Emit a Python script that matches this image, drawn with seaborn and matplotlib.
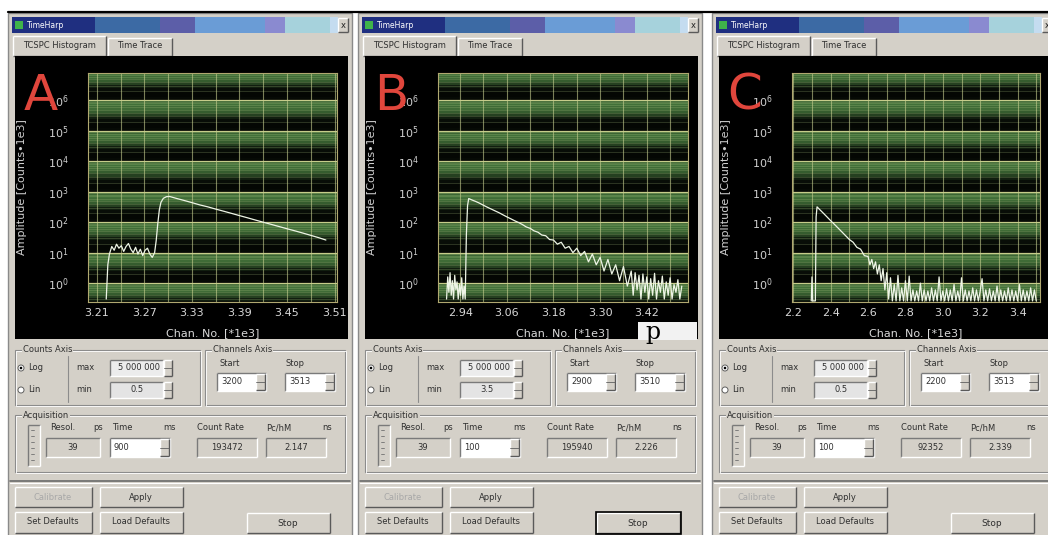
import numpy as np
import pandas as pd
import matplotlib
matplotlib.use("Agg")
import matplotlib.pyplot as plt
import seaborn as sns
from matplotlib.patches import Rectangle, Circle

sns.set_theme(style="dark")
plt.rcParams['font.family'] = ['DejaVu Sans']

# ---- histograms (x: channel no. *1e3, y: counts) ----
a_chan = [3.222, 3.224, 3.226, 3.229, 3.232, 3.235, 3.238, 3.241, 3.244, 3.247,
          3.250, 3.253, 3.256, 3.259, 3.262, 3.265, 3.268, 3.271, 3.274, 3.277,
          3.280, 3.283, 3.285, 3.287, 3.289, 3.291, 3.294, 3.298, 3.302, 3.310,
          3.320, 3.330, 3.340, 3.350, 3.360, 3.370, 3.380, 3.390, 3.400, 3.410,
          3.420, 3.430, 3.440, 3.450, 3.460, 3.470, 3.480, 3.490, 3.499]
a_counts = [0.3, 4, 9, 16, 12, 19, 14, 17, 11, 16,
            20, 13, 10, 15, 9, 13, 8, 12, 14, 9,
            7, 10, 25, 90, 260, 450, 610, 690, 700, 610,
            520, 440, 370, 320, 270, 230, 195, 165, 140, 118,
            100, 85, 72, 61, 52, 44, 37, 31, 26]

b_chan = [2.905, 2.908, 2.911, 2.914, 2.917, 2.920, 2.923, 2.926, 2.929, 2.932,
          2.935, 2.938, 2.941, 2.944, 2.947, 2.950, 2.953,
          2.956, 2.959, 2.962, 2.970,
          2.98, 2.99, 3.00, 3.01, 3.02, 3.03, 3.04, 3.05, 3.06, 3.07,
          3.08, 3.09, 3.10, 3.11, 3.12, 3.13, 3.14, 3.15, 3.16, 3.17,
          3.18, 3.19, 3.20, 3.21, 3.22, 3.23, 3.24, 3.25, 3.26, 3.27,
          3.28, 3.29, 3.30, 3.31, 3.32, 3.33, 3.34, 3.35, 3.36, 3.37,
          3.380, 3.385, 3.390, 3.395, 3.400, 3.405, 3.410, 3.415, 3.420, 3.425,
          3.430, 3.435, 3.440, 3.445, 3.450, 3.455, 3.460, 3.465, 3.470, 3.475,
          3.480, 3.485, 3.490, 3.495, 3.500, 3.505, 3.510]
b_counts = [0.3, 1.6, 0.5, 2.2, 0.4, 1.2, 0.3, 1.8, 0.6, 1.1,
            0.3, 0.9, 0.4, 1.5, 0.3, 0.8, 0.3,
            40, 350, 600, 540,
            480, 420, 360, 310, 270, 235, 205, 175, 150, 130,
            112, 98, 84, 70, 63, 52, 47, 38, 36, 27,
            26, 19, 22, 14, 16, 10, 14, 8, 11, 5,
            9, 4, 7, 2.5, 6, 2, 4, 1.2, 3.5, 0.8,
            2.5, 0.4, 2.2, 0.6, 1.8, 0.3, 2.0, 0.5, 1.6, 0.3,
            1.4, 0.4, 2.1, 0.3, 1.2, 0.5, 1.7, 0.3, 1.1, 0.4,
            1.5, 0.3, 0.9, 0.5, 1.3, 0.3, 0.8]

c_chan = [2.296, 2.300, 2.304, 2.318, 2.322, 2.327, 2.34, 2.36, 2.38, 2.40,
          2.42, 2.44, 2.46, 2.48, 2.50, 2.52, 2.54, 2.56, 2.58, 2.60,
          2.61, 2.62, 2.63, 2.64, 2.65, 2.66, 2.67, 2.68, 2.69, 2.70,
          2.71, 2.72,
          2.73, 2.74, 2.75, 2.76, 2.77, 2.78, 2.79, 2.80, 2.81, 2.82,
          2.83, 2.84, 2.85, 2.86, 2.87, 2.88, 2.89, 2.90, 2.91, 2.92,
          2.93, 2.94, 2.95, 2.96, 2.97, 2.98, 2.99, 3.00, 3.01, 3.02,
          3.03, 3.04, 3.05, 3.06, 3.07, 3.08, 3.09, 3.10, 3.11, 3.12,
          3.13, 3.14, 3.15, 3.16, 3.17, 3.18, 3.19, 3.20, 3.21, 3.22,
          3.23, 3.24, 3.25, 3.26, 3.27, 3.28, 3.29, 3.30, 3.31, 3.32,
          3.33, 3.34, 3.35, 3.36, 3.37, 3.38, 3.39, 3.40, 3.41, 3.42,
          3.43, 3.44, 3.45, 3.46, 3.47, 3.48, 3.49, 3.50]
c_counts = [0.26, 1.6, 0.26, 0.26, 150, 320, 265, 200, 150, 112,
            85, 64, 48, 36, 27, 22, 15, 13, 8, 7.5,
            4, 6, 3, 5, 2, 4, 1.2, 3, 0.6, 2.2,
            0.3, 1.5,
            0.26, 0.9, 0.26, 1.8, 0.26, 0.7, 0.26, 1.2, 0.26, 1.7,
            0.26, 0.6, 0.26, 0.55, 0.26, 1.0, 0.26, 0.6, 0.26, 0.55,
            0.26, 0.7, 0.26, 0.6, 0.26, 1.6, 0.26, 0.55, 0.26, 0.65,
            0.26, 0.6, 0.26, 0.9, 0.26, 0.55, 0.26, 1.5, 0.26, 0.6,
            0.26, 0.55, 0.26, 0.7, 0.26, 0.6, 0.26, 0.55, 1.4, 0.26,
            0.6, 0.26, 0.65, 0.26, 0.55, 0.26, 0.8, 0.26, 0.6, 0.26,
            0.55, 0.26, 0.7, 0.26, 0.6, 0.26, 0.55, 0.26, 0.9, 0.26,
            0.6, 0.26, 0.55, 0.26, 0.7, 0.26, 0.6, 0.26]

a_xticks = [3.21, 3.27, 3.33, 3.39, 3.45, 3.51]
a_xlabels = ['3.21', '3.27', '3.33', '3.39', '3.45', '3.51']
b_xticks = [2.94, 3.06, 3.18, 3.30, 3.42]
b_xlabels = ['2.94', '3.06', '3.18', '3.30', '3.42']
c_xticks = [2.2, 2.4, 2.6, 2.8, 3.0, 3.2, 3.4]
c_xlabels = ['2.2', '2.4', '2.6', '2.8', '3.0', '3.2', '3.4']
y_exps = [0, 1, 2, 3, 4, 5, 6]

letters = ['A', 'B', 'C']
max_vals = ['5 000 000', '5 000 000', '5 000 000']
min_vals = ['0.5', '3.5', '0.5']
start_vals = ['3200', '2900', '2200']
stop_vals = ['3513', '3510', '3513']
resol_vals = ['39', '39', '39']
time_vals = ['900', '100', '100']
rate_vals = ['193472', '195940', '92352']
pchm_vals = ['2.147', '2.226', '2.339']

W, H = 1048, 535
GRAY = '#d4d0c8'

fig = plt.figure(figsize=(10.48, 5.35), dpi=100)
fig.patch.set_facecolor('white')
bg = fig.add_axes([0, 0, 1, 1])
bg.set_xlim(0, W)
bg.set_ylim(H, 0)
bg.axis('off')


def px_rect(x0, y0, x1, y1):
    return [x0 / W, 1 - y1 / H, (x1 - x0) / W, (y1 - y0) / H]


def rect(x0, y0, x1, y1, fc, ec='none', lw=0.8, z=2):
    bg.add_patch(Rectangle((x0, y0), x1 - x0, y1 - y0, fc=fc, ec=ec, lw=lw, zorder=z))


def bevel(x0, y0, x1, y1, fc=GRAY, sunk=False, z=2):
    rect(x0, y0, x1, y1, fc, z=z)
    lt, rb = ('#7a7a7a', 'white') if sunk else ('white', '#5a5a5a')
    kw = dict(lw=1, zorder=z + 0.1, solid_capstyle='butt')
    bg.plot([x0, x1], [y0, y0], color=lt, **kw)
    bg.plot([x0, x0], [y0, y1], color=lt, **kw)
    bg.plot([x0, x1], [y1, y1], color=rb, **kw)
    bg.plot([x1, x1], [y0, y1], color=rb, **kw)


def etched(x0, y0, x1, y1, label, z=2):
    bg.add_patch(Rectangle((x0, y0), x1 - x0, y1 - y0, fc='none', ec='#8c8c8c', lw=0.8, zorder=z))
    bg.add_patch(Rectangle((x0 + 1, y0 + 1), x1 - x0, y1 - y0, fc='none', ec='white', lw=0.6, zorder=z))
    bg.text(x0 + 8, y0, label, fontsize=6, va='center', ha='left', color='#303030', zorder=z + 1,
            bbox=dict(fc=GRAY, ec='none', pad=0.6))


def txt(x, y, s, ha='left', color='#303030', size=6):
    bg.text(x, y, s, fontsize=size, ha=ha, va='center', color=color, zorder=5)


def spin(x0, y0, x1, y1):
    bevel(x0, y0, x1, y1, z=4)
    ym = (y0 + y1) / 2
    bg.plot([x0, x1], [ym, ym], color='#606060', lw=0.6, zorder=4.5)


title_segs = [(12, 95, '#1f2f80'), (95, 160, '#3c6aa4'), (160, 195, '#5c5ea8'),
              (195, 265, '#6a9cd6'), (265, 285, '#8a8ad0'), (285, 330, '#a6d2dc'),
              (330, 338, '#c4dcf0')]
offsets = [0, 350, 704]

# top border line
bg.plot([8, W], [12, 12], color='black', lw=1.6, zorder=10)

for i, dx in enumerate(offsets):
    rect(8 + dx, 13, 352 + dx, H + 2, GRAY, ec='#8a8a8a', lw=1, z=1)
    for x0, x1, c in title_segs:
        rect(x0 + dx, 17, x1 + dx, 33, c, z=2)
    bevel(338 + dx, 18, 348 + dx, 32, z=3)
    txt(343 + dx, 25, 'x', ha='center', size=6, color='#202020')
    rect(15 + dx, 21, 23 + dx, 29, '#3fb24a', z=3)
    txt(27 + dx, 25, 'TimeHarp', color='white', size=5.5)
    # tabs
    bevel(13 + dx, 36, 106 + dx, 56, z=2)
    txt(59 + dx, 45, 'TCSPC Histogram', ha='center', size=6)
    bevel(108 + dx, 38, 172 + dx, 56, z=2)
    txt(140 + dx, 46, 'Time Trace', ha='center', size=6)
    # black histogram panel
    rect(15 + dx, 56, 348 + dx, 339, 'black', z=3)

    # Counts Axis group
    etched(15 + dx, 350, 200 + dx, 405, 'Counts Axis')
    bg.add_patch(Circle((21 + dx, 368), 3, fc='white', ec='#606060', lw=0.7, zorder=4))
    bg.add_patch(Circle((21 + dx, 368), 1.3, fc='black', ec='none', zorder=4.5))
    bg.add_patch(Circle((21 + dx, 390), 3, fc='white', ec='#606060', lw=0.7, zorder=4))
    txt(28 + dx, 368, 'Log')
    txt(28 + dx, 390, 'Lin')
    bg.plot([68 + dx, 68 + dx], [356, 402], color='#8c8c8c', lw=0.8, zorder=3)
    txt(76 + dx, 368, 'max')
    txt(76 + dx, 390, 'min')
    bevel(110 + dx, 360, 163 + dx, 376, fc='#ececec', sunk=True, z=3)
    txt(160 + dx, 368, max_vals[i], ha='right')
    spin(164 + dx, 360, 172 + dx, 376)
    bevel(110 + dx, 382, 163 + dx, 398, fc='#e4e4e4', sunk=True, z=3)
    txt(137 + dx, 390, min_vals[i], ha='center')
    spin(164 + dx, 382, 172 + dx, 398)

    # Channels Axis group
    etched(205 + dx, 350, 345 + dx, 405, 'Channels Axis')
    txt(220 + dx, 364, 'Start')
    txt(285 + dx, 364, 'Stop')
    bevel(217 + dx, 373, 266 + dx, 391, fc='white', sunk=True, z=3)
    txt(221 + dx, 382, start_vals[i])
    spin(256 + dx, 374, 265 + dx, 390)
    bevel(285 + dx, 373, 335 + dx, 391, fc='white', sunk=True, z=3)
    txt(289 + dx, 382, stop_vals[i])
    spin(325 + dx, 374, 334 + dx, 390)

    # Acquisition group
    etched(15 + dx, 415, 345 + dx, 472, 'Acquisition')
    bevel(28 + dx, 425, 40 + dx, 466, sunk=True, z=3)
    for yy in [430, 436, 442, 448, 454, 460]:
        bg.plot([31 + dx, 34 + dx], [yy, yy], color='#707070', lw=0.6, zorder=4)
    txt(50 + dx, 428, 'Resol.')
    txt(93 + dx, 428, 'ps')
    bevel(46 + dx, 438, 100 + dx, 457, sunk=True, z=3)
    txt(73 + dx, 447, resol_vals[i], ha='center')
    txt(112 + dx, 428, 'Time')
    txt(163 + dx, 428, 'ms')
    bevel(110 + dx, 438, 170 + dx, 457, fc='white', sunk=True, z=3)
    txt(114 + dx, 447, time_vals[i])
    spin(160 + dx, 439, 169 + dx, 456)
    txt(197 + dx, 428, 'Count Rate')
    bevel(197 + dx, 438, 257 + dx, 457, sunk=True, z=3)
    txt(227 + dx, 447, rate_vals[i], ha='center')
    txt(266 + dx, 428, 'Pc/hM')
    txt(322 + dx, 428, 'ns')
    bevel(266 + dx, 438, 326 + dx, 457, sunk=True, z=3)
    txt(296 + dx, 447, pchm_vals[i], ha='center')

    # separator and buttons
    bg.plot([10 + dx, 350 + dx], [481, 481], color='#6a6a6a', lw=1.2, zorder=3)
    bg.plot([10 + dx, 350 + dx], [483, 483], color='white', lw=0.8, zorder=3)
    bevel(15 + dx, 487, 92 + dx, 507, z=3)
    txt(53 + dx, 497, 'Calibrate', ha='center', color='#a8a8a8')
    bevel(100 + dx, 487, 183 + dx, 507, z=3)
    txt(141 + dx, 497, 'Apply', ha='center')
    bevel(15 + dx, 512, 92 + dx, 533, z=3)
    txt(53 + dx, 522, 'Set Defaults', ha='center')
    bevel(100 + dx, 512, 183 + dx, 533, z=3)
    txt(141 + dx, 522, 'Load Defaults', ha='center')
    bevel(247 + dx, 513, 330 + dx, 533, z=3)
    if i == 1:
        rect(246 + dx, 512, 331 + dx, 534, 'none', ec='black', lw=1.2, z=4)
    txt(288 + dx, 523, 'Stop', ha='center', size=6.5)

# light patch behind the stray "p" in the middle window
rect(638, 322, 697, 340, '#f2f2f2', z=6)

# ---- histogram plots ----
panels = [
    dict(chan=a_chan, counts=a_counts, box=(88, 73, 337, 302), xlim=(3.199, 3.513),
         xticks=a_xticks, xlabels=a_xlabels, gstart=3.21, gstep=0.03),
    dict(chan=b_chan, counts=b_counts, box=(438, 73, 688, 302), xlim=(2.883, 3.526),
         xticks=b_xticks, xlabels=b_xlabels, gstart=2.94, gstep=0.06),
    dict(chan=c_chan, counts=c_counts, box=(792, 73, 1040, 302), xlim=(2.193, 3.52),
         xticks=c_xticks, xlabels=c_xlabels, gstart=2.2, gstep=0.1),
]
band_alpha = [0.07, 0.05, 0.05, 0.09, 0.2, 0.42, 0.6, 0.7, 0.74, 0.66]
ylo, yhi = 10 ** -0.62, 10 ** 6.9

for i, p in enumerate(panels):
    ax = fig.add_axes(px_rect(*p['box']))
    ax.set_facecolor('black')
    ax.grid(False)
    for n in range(-1, 7):
        for k in range(10):
            ax.axhspan(10 ** (n + k / 10), 10 ** (n + (k + 1) / 10), color='#5a9a4e',
                       alpha=band_alpha[k], lw=0, zorder=0)
        for m in range(2, 10):
            ax.axhline(m * 10 ** n, color='#a8c080', lw=0.5, alpha=0.35, zorder=1)
        ax.axhline(10 ** n, color='#e0e09a', lw=0.9, alpha=0.85, zorder=1)
    for gx in np.arange(p['gstart'], p['xlim'][1], p['gstep']):
        ax.axvline(gx, color='#c8d090', lw=0.8, alpha=0.6, zorder=1)

    df = pd.DataFrame({'chan': p['chan'], 'counts': p['counts']})
    sns.lineplot(data=df, x='chan', y='counts', ax=ax, color='#eef5e6', lw=0.9,
                 estimator=None, sort=False, zorder=3)
    ax.set_yscale('log')
    ax.set_ylim(ylo, yhi)
    ax.set_xlim(*p['xlim'])
    ax.set_yticks([10 ** e for e in y_exps])
    ax.set_yticklabels(['$10^{%d}$' % e for e in y_exps])
    ax.yaxis.set_minor_locator(matplotlib.ticker.NullLocator())
    ax.set_xticks(p['xticks'])
    ax.set_xticklabels(p['xlabels'])
    ax.tick_params(axis='y', colors='#d0d0d0', length=0, pad=14, labelsize=8)
    ax.tick_params(axis='x', colors='#d8d8d8', length=0, pad=4, labelsize=8)
    ax.set_ylabel('Amplitude [Counts\u20221e3]', color='#cfcfcf', fontsize=8)
    ax.yaxis.set_label_coords(-0.245, 0.5)
    ax.set_xlabel('Chan. No. [*1e3]', color='#d8d8d8', fontsize=8)
    ax.xaxis.set_label_coords(0.5, -0.115)
    for s in ax.spines.values():
        s.set_color('#b0a870')
        s.set_linewidth(0.8)
        s.set_visible(True)

    # red panel letter
    lx = p['box'][0] - 47
    fig.text(lx / W, 1 - 110 / H, letters[i], fontsize=36, color='#e0463c',
             ha='center', va='baseline', zorder=10)

fig.text(653 / W, 1 - 332 / H, 'p', fontsize=17, color='black', ha='center', va='center',
         family=['DejaVu Serif'], zorder=10)

fig.savefig('out.png', dpi=100)
